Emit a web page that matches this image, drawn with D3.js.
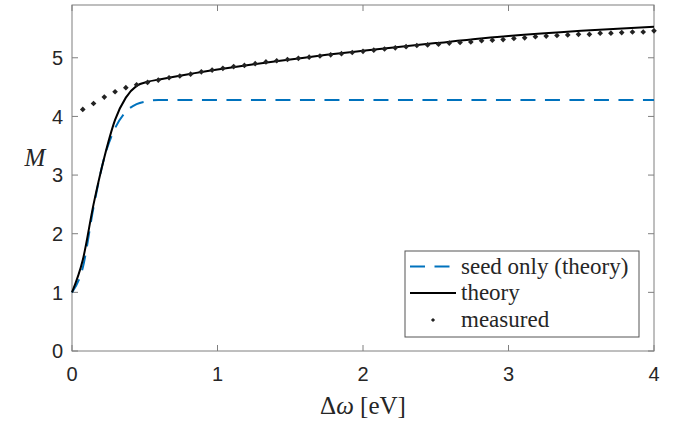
<!DOCTYPE html>
<html>
<head>
<meta charset="utf-8">
<script src="https://cdn.jsdelivr.net/npm/d3@7"></script>
<style>
  body { margin: 0; background: #fff; }
  svg text { fill: #262626; }
</style>
</head>
<body>
<svg id="chart" width="682" height="424"></svg>
<script>
// theory curves
var theoryX = [0, 0.074, 0.148, 0.222, 0.296, 0.370, 0.444, 0.519, 0.6, 0.8, 1.0, 1.25, 1.5, 1.75, 2.0, 2.5, 3.0, 3.5, 4.0];
var theoryY = [1.0, 1.55, 2.5, 3.3, 3.94, 4.32, 4.52, 4.59, 4.63, 4.72, 4.80, 4.89, 4.97, 5.05, 5.12, 5.25, 5.37, 5.46, 5.53];

var seedX = [0, 0.074, 0.148, 0.222, 0.296, 0.370, 0.444, 0.519, 0.593, 1.0, 2.0, 3.0, 4.0];
var seedY = [1.0, 1.42, 2.45, 3.3, 3.8, 4.08, 4.21, 4.26, 4.28, 4.28, 4.28, 4.28, 4.28];

// measured points
var measX = [0.074, 0.148, 0.222, 0.296, 0.370, 0.444, 0.519, 0.593, 0.667, 0.741,
  0.815, 0.889, 0.963, 1.037, 1.111, 1.185, 1.259, 1.333, 1.407, 1.481,
  1.556, 1.630, 1.704, 1.778, 1.852, 1.926, 2.000, 2.074, 2.148, 2.222,
  2.296, 2.370, 2.444, 2.519, 2.593, 2.667, 2.741, 2.815, 2.889, 2.963,
  3.037, 3.111, 3.185, 3.259, 3.333, 3.407, 3.481, 3.556, 3.630, 3.704,
  3.778, 3.852, 3.926, 4.000];
var measY = [4.12, 4.22, 4.33, 4.42, 4.49, 4.54, 4.58, 4.62, 4.66, 4.69,
  4.72, 4.76, 4.79, 4.82, 4.85, 4.87, 4.90, 4.93, 4.95, 4.97,
  4.99, 5.01, 5.03, 5.05, 5.07, 5.09, 5.11, 5.13, 5.15, 5.17,
  5.19, 5.21, 5.22, 5.23, 5.25, 5.26, 5.27, 5.29, 5.30, 5.31,
  5.33, 5.34, 5.36, 5.37, 5.38, 5.39, 5.40, 5.40, 5.42, 5.42,
  5.43, 5.44, 5.44, 5.46];

var xTicks = [0, 1, 2, 3, 4];
var yTicks = [0, 1, 2, 3, 4, 5];
var legendNames = ['seed only (theory)', 'theory', 'measured'];

var pLeft = 72, pRight = 654, pTop = 5, pBottom = 351;

var x = d3.scaleLinear().domain([0, 4]).range([pLeft, pRight]);
var y = d3.scaleLinear().domain([0, 5.9]).range([pBottom, pTop]);

var svg = d3.select('svg#chart');
var axisColor = '#7f7f7f';

// box
svg.append('rect')
  .attr('x', pLeft).attr('y', pTop)
  .attr('width', pRight - pLeft).attr('height', pBottom - pTop)
  .attr('fill', 'none').attr('stroke', axisColor).attr('stroke-width', 1);

// ticks (inward, mirrored)
var tickLen = 6;
xTicks.forEach(function(t) {
  svg.append('line').attr('x1', x(t)).attr('x2', x(t)).attr('y1', pBottom).attr('y2', pBottom - tickLen)
    .attr('stroke', axisColor);
  svg.append('line').attr('x1', x(t)).attr('x2', x(t)).attr('y1', pTop).attr('y2', pTop + tickLen)
    .attr('stroke', axisColor);
  svg.append('text').attr('x', x(t)).attr('y', 381)
    .attr('text-anchor', 'middle')
    .attr('font-family', 'Liberation Sans, Arial, sans-serif')
    .attr('font-size', 20)
    .text(t);
});
yTicks.forEach(function(t) {
  svg.append('line').attr('x1', pLeft).attr('x2', pLeft + tickLen).attr('y1', y(t)).attr('y2', y(t))
    .attr('stroke', axisColor);
  svg.append('line').attr('x1', pRight).attr('x2', pRight - tickLen).attr('y1', y(t)).attr('y2', y(t))
    .attr('stroke', axisColor);
  svg.append('text').attr('x', pLeft - 9).attr('y', y(t)).attr('dy', '0.36em')
    .attr('text-anchor', 'end')
    .attr('font-family', 'Liberation Sans, Arial, sans-serif')
    .attr('font-size', 20)
    .text(t);
});

// axis labels
var xl = svg.append('text').attr('x', (pLeft + pRight) / 2).attr('y', 414)
  .attr('text-anchor', 'middle')
  .attr('font-family', 'Liberation Serif, DejaVu Serif, serif')
  .attr('font-size', 25);
xl.append('tspan').text('Δ');
xl.append('tspan').attr('font-style', 'italic').text('ω');
xl.append('tspan').text(' [eV]');

svg.append('text')
  .attr('x', 35).attr('y', 166)
  .attr('text-anchor', 'middle')
  .attr('font-family', 'Liberation Serif, DejaVu Serif, serif')
  .attr('font-style', 'italic')
  .attr('font-size', 25)
  .text('M');

var line = d3.line()
  .x(d => x(d[0]))
  .y(d => y(d[1]))
  .curve(d3.curveMonotoneX);

var g = svg.append('g');

g.append('path')
  .datum(seedX.map((v, i) => [v, seedY[i]]))
  .attr('d', line)
  .attr('fill', 'none')
  .attr('stroke', '#0072bd')
  .attr('stroke-width', 2)
  .attr('stroke-dasharray', '15,9.5');

g.append('path')
  .datum(theoryX.map((v, i) => [v, theoryY[i]]))
  .attr('d', line)
  .attr('fill', 'none')
  .attr('stroke', '#000')
  .attr('stroke-width', 2);

// small square turned 45 deg, like the matlab point marker
var dot = d3.symbol().type(d3.symbolSquare).size(16);

g.selectAll('path.meas').data(measX.map((v, i) => [v, measY[i]])).enter().append('path')
  .attr('class', 'meas')
  .attr('d', dot)
  .attr('transform', d => 'translate(' + x(d[0]) + ',' + y(d[1]) + ') rotate(45)')
  .attr('fill', '#222');

// legend
var lg = svg.append('g');
lg.append('rect')
  .attr('x', 405).attr('y', 251).attr('width', 234).attr('height', 86)
  .attr('fill', '#fff').attr('stroke', '#555').attr('stroke-width', 1);

var rowY = [266.5, 293, 320];
lg.append('line').attr('x1', 410).attr('x2', 456).attr('y1', rowY[0]).attr('y2', rowY[0])
  .attr('stroke', '#0072bd').attr('stroke-width', 2).attr('stroke-dasharray', '15,9.5');
lg.append('line').attr('x1', 410).attr('x2', 456).attr('y1', rowY[1]).attr('y2', rowY[1])
  .attr('stroke', '#000').attr('stroke-width', 2);
lg.append('path').attr('d', d3.symbol().type(d3.symbolSquare).size(9))
  .attr('transform', 'translate(433,' + rowY[2] + ') rotate(45)').attr('fill', '#222');

legendNames.forEach(function(n, i) {
  lg.append('text').attr('x', 461).attr('y', rowY[i]).attr('dy', '0.32em')
    .attr('font-family', 'Liberation Serif, DejaVu Serif, serif')
    .attr('font-size', 23)
    .text(n);
});
</script>
</body>
</html>
